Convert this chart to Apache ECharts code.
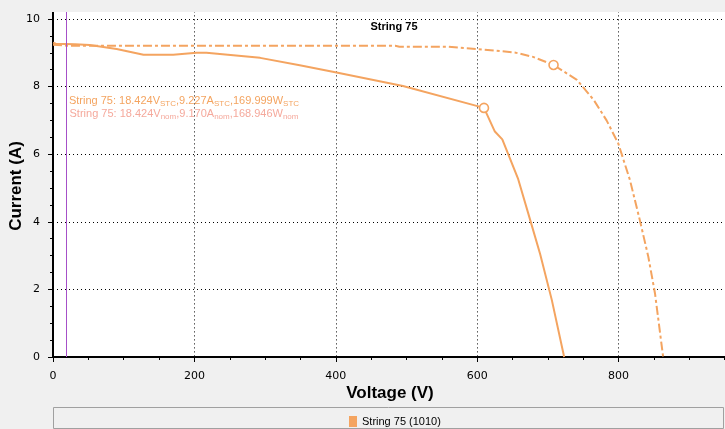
<!DOCTYPE html>
<html>
<head>
<meta charset="utf-8">
<title>String 75</title>
<script src="https://cdn.jsdelivr.net/npm/echarts@6/dist/echarts.min.js"></script>
<style>
  html, body { margin: 0; padding: 0; background: #f0f0f0; }
  #chart { width: 725px; height: 429px; }
</style>
</head>
<body>
<div id="chart"></div>
<script>
// nominal curve (solid)
const nomVoltage = [0, 4, 31, 52, 90, 128, 170, 203, 217, 293, 349, 401, 495, 609.6, 625, 635.5, 658, 675, 689, 705.5, 723];
const nomCurrent = [9.3, 9.27, 9.25, 9.23, 9.11, 8.94, 8.94, 9.0, 9.0, 8.85, 8.63, 8.42, 8.02, 7.37, 6.67, 6.44, 5.26, 4.05, 3.05, 1.69, 0];
// STC curve (dash-dot)
const stcVoltage = [0, 20, 100, 300, 484, 490, 557, 601, 653, 679, 708, 741, 765, 783, 799.5, 816, 830, 842, 851.5, 863];
const stcCurrent = [9.24, 9.21, 9.21, 9.21, 9.21, 9.18, 9.18, 9.11, 9.01, 8.88, 8.64, 8.2, 7.6, 7.0, 6.32, 5.24, 4.05, 2.97, 1.88, 0];
// maximum power points
const mppVoltage = [609.6, 708];
const mppCurrent = [7.37, 8.64];
const moduleVoltage = 18.424;

const seriesName = 'String 75 (1010)';
const orange = '#f4a460';
const salmon = '#f5a99c';

const zip = (xs, ys) => xs.map((v, i) => [v, ys[i]]);

const myChart = echarts.init(document.querySelector('#chart'));
const option = {
    backgroundColor: '#f0f0f0',
    animation: false,
    title: {
        text: 'String 75',
        left: 389,
        top: 16,
        textAlign: 'center',
        textStyle: { fontFamily: 'Liberation Sans', fontSize: 11, fontWeight: 'bold', color: '#000' }
    },
    legend: {
        left: 344,
        top: 411,
        icon: 'rect',
        itemWidth: 8,
        itemHeight: 11,
        itemGap: 4,
        data: [seriesName],
        textStyle: { fontFamily: 'Liberation Sans', fontSize: 11, color: '#000' }
    },
    grid: {
        left: 53,
        right: -35,
        top: -48.6,
        bottom: 72,
        show: true,
        backgroundColor: '#fff',
        borderWidth: 0,
        containLabel: false,
        outerBoundsMode: 'none'
    },
    xAxis: {
        type: 'value',
        min: 0,
        max: 1000,
        interval: 200,
        axisLine: { onZero: false, lineStyle: { color: '#000', width: 2 } },
        axisTick: { length: 5, lineStyle: { color: '#000' } },
        minorTick: { show: true, splitNumber: 4, length: 3, lineStyle: { color: '#000' } },
        axisLabel: { fontFamily: 'DejaVu Sans', fontSize: 11, color: '#000', margin: 14 },
        splitLine: { lineStyle: { color: '#000', type: [1, 3], width: 1 } }
    },
    yAxis: {
        type: 'value',
        min: 0,
        max: 12,
        interval: 2,
        axisLine: { show: true, onZero: false, lineStyle: { color: '#000', width: 2 } },
        axisTick: { show: true, length: 5, lineStyle: { color: '#000' } },
        minorTick: { show: true, splitNumber: 4, length: 3, lineStyle: { color: '#000' } },
        axisLabel: { fontFamily: 'DejaVu Sans', fontSize: 11, color: '#000', margin: 13 },
        splitLine: { lineStyle: { color: '#000', type: [1, 3], width: 1 } }
    },
    graphic: [
        {
            type: 'rect', z: 100, silent: true,
            shape: { x: 0, y: 0, width: 725, height: 12 },
            style: { fill: '#f0f0f0' }
        },
        {
            type: 'rect', z: 100, silent: true,
            shape: { x: 53.5, y: 407.5, width: 670, height: 21 },
            style: { fill: 'none', stroke: '#a0a0a0', lineWidth: 1 }
        },
        {
            type: 'text', z: 100, silent: true,
            x: 16, y: 186, rotation: Math.PI / 2,
            style: {
                text: 'Current (A)', fill: '#000',
                font: 'bold 17px "Liberation Sans"',
                align: 'center', verticalAlign: 'middle'
            }
        },
        {
            type: 'text', z: 100, silent: true,
            x: 390, y: 393,
            style: {
                text: 'Voltage (V)', fill: '#000',
                font: 'bold 17px "Liberation Sans"',
                align: 'center', verticalAlign: 'middle'
            }
        },
        {
            type: 'text', z: 100, silent: true,
            x: 184, y: 94,
            style: {
                text: 'String 75: 18.424V{s|STC},9.227A{s|STC},169.999W{s|STC}',
                fill: orange, align: 'center',
                fontFamily: 'Liberation Sans', fontSize: 11,
                lineHeight: 14,
                rich: { s: { fontFamily: 'Liberation Sans', fontSize: 8, fill: orange, verticalAlign: 'bottom', lineHeight: 14, padding: [4, 0, 0, 0] } }
            }
        },
        {
            type: 'text', z: 100, silent: true,
            x: 184, y: 107,
            style: {
                text: 'String 75: 18.424V{s|nom},9.170A{s|nom},168.946W{s|nom}',
                fill: salmon, align: 'center',
                fontFamily: 'Liberation Sans', fontSize: 11,
                lineHeight: 14,
                rich: { s: { fontFamily: 'Liberation Sans', fontSize: 8, fill: salmon, verticalAlign: 'bottom', lineHeight: 14, padding: [4, 0, 0, 0] } }
            }
        }
    ],
    series: [
        {
            name: seriesName,
            type: 'line',
            data: zip(nomVoltage, nomCurrent),
            showSymbol: false,
            symbol: 'none',
            color: orange,
            lineStyle: { color: orange, width: 2 },
            markLine: {
                silent: true,
                symbol: 'none',
                label: { show: false },
                lineStyle: { color: '#a650c8', width: 1, type: 'solid' },
                data: [{ xAxis: moduleVoltage }]
            }
        },
        {
            name: seriesName,
            type: 'line',
            data: zip(stcVoltage, stcCurrent),
            showSymbol: false,
            symbol: 'none',
            color: orange,
            lineStyle: { color: orange, width: 2, type: [9, 3, 3, 3] }
        },
        {
            name: seriesName,
            type: 'scatter',
            data: zip(mppVoltage, mppCurrent),
            symbol: 'circle',
            symbolSize: 9,
            color: orange,
            itemStyle: { color: '#fff', borderColor: orange, borderWidth: 1.6, opacity: 1 },
            z: 5
        }
    ]
};
myChart.setOption(option);
</script>
</body>
</html>
